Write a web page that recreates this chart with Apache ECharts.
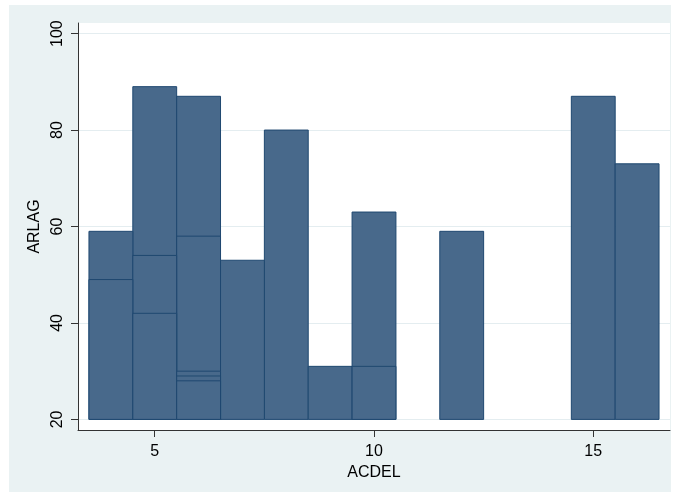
<!DOCTYPE html>
<html>
<head>
<meta charset="utf-8">
<script src="https://cdn.jsdelivr.net/npm/echarts@6/dist/echarts.min.js"></script>
<style>
    html, body { margin: 0; padding: 0; background: #ffffff; }
    #chart { width: 673px; height: 492px; }
</style>
</head>
<body>
<div id="chart"></div>
<script>
var acdel = [4, 4, 5, 5, 5, 6, 6, 6, 6, 6, 7, 8, 9, 10, 10, 12, 15, 16];
var arlag = [59, 49, 89, 54, 42, 87, 58, 30, 29, 28, 53, 80, 31, 63, 31, 59, 87, 73];
var xTicks = [5, 10, 15];
var yTicks = [20, 40, 60, 80, 100];
var base = 20;

// taller bars first so the shorter ones' edges stay visible
var points = [];
for (var i = 0; i < acdel.length; i++) {
    points.push([acdel[i], arlag[i]]);
}
points.sort(function (a, b) { return b[1] - a[1]; });

var chart = echarts.init(document.getElementById('chart'));

var option = {
    backgroundColor: '#ffffff',
    animation: false,
    textStyle: { fontFamily: 'Liberation Sans, Arial, sans-serif' },
    graphic: [
        {
            type: 'rect',
            z: -10,
            silent: true,
            shape: { x: 9, y: 5, width: 662, height: 487 },
            style: { fill: '#eaf2f3' }
        },
        {
            type: 'rect',
            z: -9,
            silent: true,
            shape: { x: 78, y: 23, width: 592, height: 407 },
            style: { fill: '#ffffff' }
        }
    ],
    grid: {
        left: 78,
        right: 3,
        top: 23,
        bottom: 62
    },
    xAxis: {
        type: 'value',
        min: 3.25,
        max: 16.75,
        name: 'ACDEL',
        nameLocation: 'middle',
        nameGap: 29,
        nameTextStyle: { color: '#000', fontSize: 16 },
        axisLine: { show: true, lineStyle: { color: '#333', width: 1 } },
        axisTick: { show: true, length: 7, customValues: xTicks, lineStyle: { color: '#333' } },
        axisLabel: { customValues: xTicks, color: '#000', fontSize: 16, margin: 14 },
        splitLine: { show: false }
    },
    yAxis: {
        type: 'value',
        min: 17.8,
        max: 102.2,
        name: 'ARLAG',
        nameLocation: 'middle',
        nameRotate: 90,
        nameGap: 29,
        nameTextStyle: { color: '#000', fontSize: 16 },
        axisLine: { show: true, lineStyle: { color: '#333', width: 1 } },
        axisTick: { show: true, length: 7, customValues: yTicks, lineStyle: { color: '#333' } },
        axisLabel: { customValues: yTicks, color: '#000', fontSize: 16, rotate: 90, margin: 12 },
        splitLine: { show: true, lineStyle: { color: '#e4edf0', width: 1 } }
    },
    series: [
        {
            type: 'custom',
            data: points,
            renderItem: function (params, api) {
                var x = api.value(0);
                var y = api.value(1);
                var p1 = api.coord([x - 0.5, y]);
                var p2 = api.coord([x + 0.5, base]);
                return {
                    type: 'rect',
                    shape: { x: p1[0], y: p1[1], width: p2[0] - p1[0], height: p2[1] - p1[1] },
                    style: { fill: '#48698b', stroke: '#1f4870', lineWidth: 1 }
                };
            }
        }
    ]
};

chart.setOption(option);
</script>
</body>
</html>
